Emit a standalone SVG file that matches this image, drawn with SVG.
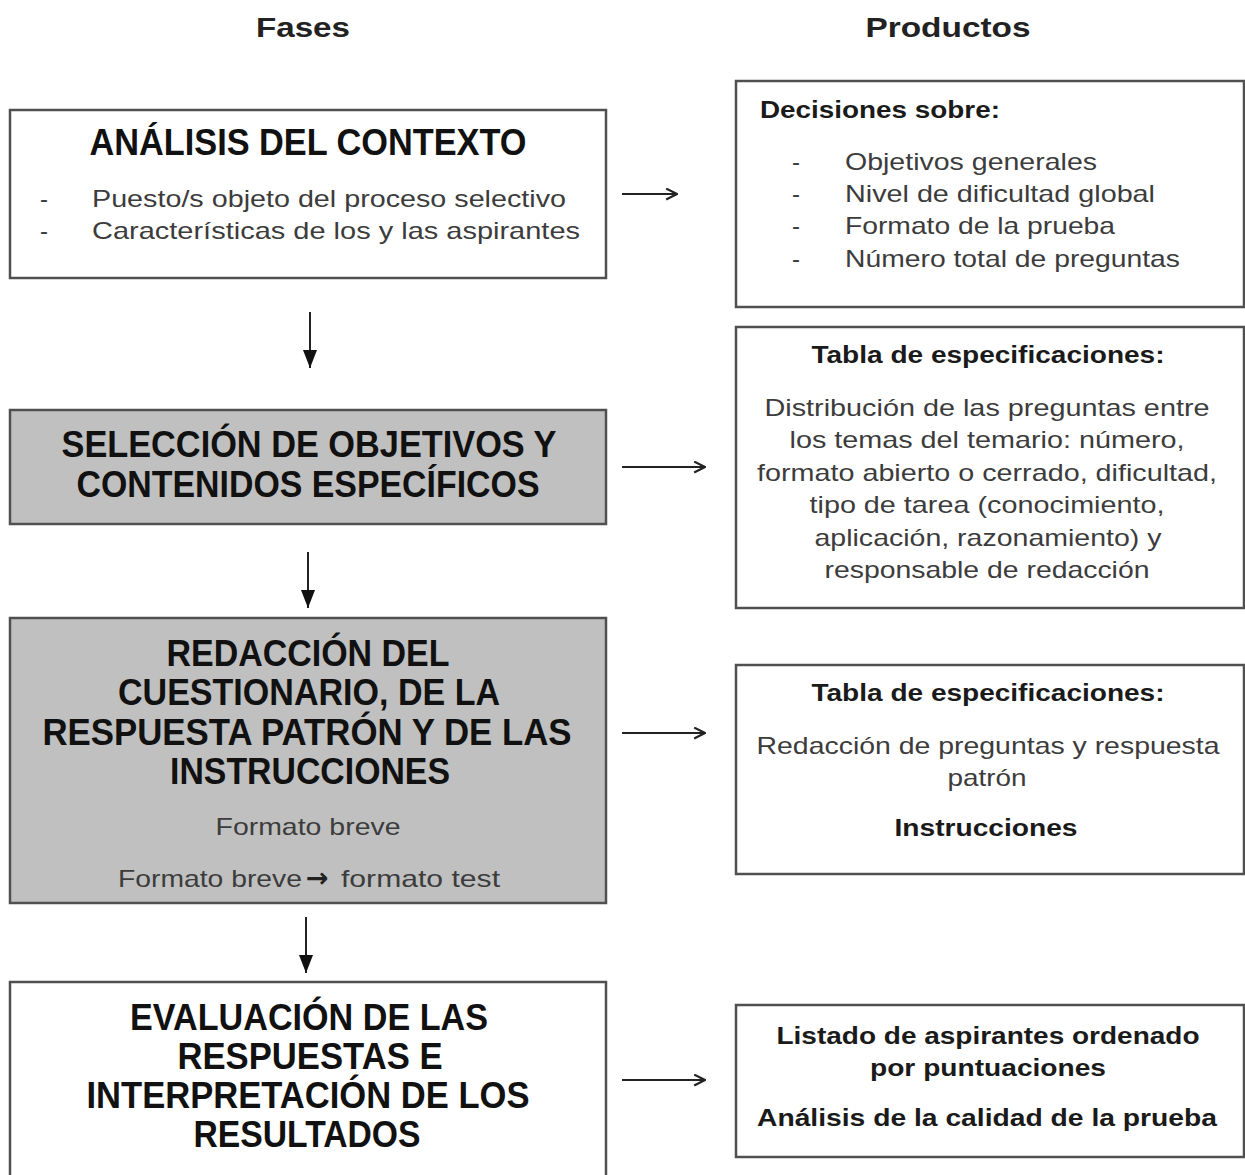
<svg xmlns="http://www.w3.org/2000/svg" width="1245" height="1175" viewBox="0 0 1245 1175">
<defs>
<style>
.box{fill:#fff;stroke:#505050;stroke-width:2.5}
.grey{fill:#c0c0c0}
.hd{font-family:"Liberation Sans",Arial,sans-serif;font-weight:bold;font-size:28px;fill:#222;text-anchor:middle}
.t{font-family:"Liberation Sans",Arial,sans-serif;font-weight:bold;font-size:36px;fill:#111;text-anchor:middle}
.b{font-family:"Liberation Sans",Arial,sans-serif;font-size:24px;fill:#3c3c3c}
.bc{font-family:"Liberation Sans",Arial,sans-serif;font-size:24px;fill:#3c3c3c;text-anchor:middle}
.bb{font-family:"Liberation Sans",Arial,sans-serif;font-weight:bold;font-size:23px;fill:#1a1a1a}
.bbc{font-family:"Liberation Sans",Arial,sans-serif;font-weight:bold;font-size:23px;fill:#1a1a1a;text-anchor:middle}
.arr{font-family:"DejaVu Sans",sans-serif;font-weight:bold;fill:#222}
.ln{stroke:#222;stroke-width:2;fill:none}
</style>
<marker id="open" viewBox="0 0 12 12" refX="11" refY="6" markerWidth="13" markerHeight="13" markerUnits="userSpaceOnUse" orient="auto">
<path d="M1,1 L11,6 L1,11" fill="none" stroke="#222" stroke-width="2"/>
</marker>
<marker id="tri" viewBox="0 0 14 18" refX="7" refY="18" markerWidth="14" markerHeight="18" markerUnits="userSpaceOnUse" orient="0">
<path d="M0,0 L14,0 L7,18 Z" fill="#111"/>
</marker>
</defs>
<rect width="1245" height="1175" fill="#fff"/>

<g id="headers">
<text class="hd" x="303" y="37" textLength="94" lengthAdjust="spacingAndGlyphs">Fases</text>
<text class="hd" x="948" y="37" textLength="165" lengthAdjust="spacingAndGlyphs">Productos</text>
</g>

<g id="analisis">
<rect class="box" x="10" y="110" width="596" height="168"/>
<text class="t" x="308" y="155" textLength="437" lengthAdjust="spacingAndGlyphs">ANÁLISIS DEL CONTEXTO</text>
<text class="b" x="40" y="207">-</text>
<text class="b" x="92" y="207" textLength="474" lengthAdjust="spacingAndGlyphs">Puesto/s objeto del proceso selectivo</text>
<text class="b" x="40" y="239">-</text>
<text class="b" x="92" y="239" textLength="488" lengthAdjust="spacingAndGlyphs">Características de los y las aspirantes</text>
</g>

<g id="seleccion">
<rect class="box grey" x="10" y="410" width="596" height="114"/>
<text class="t" x="309" y="457" textLength="495" lengthAdjust="spacingAndGlyphs">SELECCIÓN DE OBJETIVOS Y</text>
<text class="t" x="308" y="497" textLength="463" lengthAdjust="spacingAndGlyphs">CONTENIDOS ESPECÍFICOS</text>
</g>

<g id="redaccion">
<rect class="box grey" x="10" y="618" width="596" height="285"/>
<text class="t" x="308" y="666" textLength="283" lengthAdjust="spacingAndGlyphs">REDACCIÓN DEL</text>
<text class="t" x="309" y="705" textLength="382" lengthAdjust="spacingAndGlyphs">CUESTIONARIO, DE LA</text>
<text class="t" x="307" y="745" textLength="529" lengthAdjust="spacingAndGlyphs">RESPUESTA PATRÓN Y DE LAS</text>
<text class="t" x="310" y="784" textLength="280" lengthAdjust="spacingAndGlyphs">INSTRUCCIONES</text>
<text class="bc" x="308" y="835" textLength="185" lengthAdjust="spacingAndGlyphs">Formato breve</text>
<text class="b" x="118" y="887"><tspan textLength="184" lengthAdjust="spacingAndGlyphs">Formato breve</tspan><tspan class="arr" x="306" font-size="27" text-anchor="start">→</tspan><tspan x="341" textLength="159" lengthAdjust="spacingAndGlyphs">formato test</tspan></text>
</g>

<g id="evaluacion">
<rect class="box" x="10" y="982" width="596" height="200"/>
<text class="t" x="309" y="1030" textLength="358" lengthAdjust="spacingAndGlyphs">EVALUACIÓN DE LAS</text>
<text class="t" x="310" y="1069" textLength="265" lengthAdjust="spacingAndGlyphs">RESPUESTAS E</text>
<text class="t" x="308" y="1108" textLength="443" lengthAdjust="spacingAndGlyphs">INTERPRETACIÓN DE LOS</text>
<text class="t" x="307" y="1147" textLength="227" lengthAdjust="spacingAndGlyphs">RESULTADOS</text>
</g>

<g id="decisiones">
<rect class="box" x="736" y="81" width="508" height="226"/>
<text class="bb" x="760" y="118" textLength="240" lengthAdjust="spacingAndGlyphs">Decisiones sobre:</text>
<text class="b" x="792" y="170">-</text>
<text class="b" x="845" y="170" textLength="252" lengthAdjust="spacingAndGlyphs">Objetivos generales</text>
<text class="b" x="792" y="202">-</text>
<text class="b" x="845" y="202" textLength="310" lengthAdjust="spacingAndGlyphs">Nivel de dificultad global</text>
<text class="b" x="792" y="234">-</text>
<text class="b" x="845" y="234" textLength="270" lengthAdjust="spacingAndGlyphs">Formato de la prueba</text>
<text class="b" x="792" y="267">-</text>
<text class="b" x="845" y="267" textLength="335" lengthAdjust="spacingAndGlyphs">Número total de preguntas</text>
</g>

<g id="tabla1">
<rect class="box" x="736" y="327" width="508" height="281"/>
<text class="bbc" x="988" y="363" textLength="353" lengthAdjust="spacingAndGlyphs">Tabla de especificaciones:</text>
<text class="bc" x="987" y="416" textLength="445" lengthAdjust="spacingAndGlyphs">Distribución de las preguntas entre</text>
<text class="bc" x="987" y="448" textLength="395" lengthAdjust="spacingAndGlyphs">los temas del temario: número,</text>
<text class="bc" x="987" y="481" textLength="460" lengthAdjust="spacingAndGlyphs">formato abierto o cerrado, dificultad,</text>
<text class="bc" x="987" y="513" textLength="355" lengthAdjust="spacingAndGlyphs">tipo de tarea (conocimiento,</text>
<text class="bc" x="988" y="546" textLength="347" lengthAdjust="spacingAndGlyphs">aplicación, razonamiento) y</text>
<text class="bc" x="987" y="578" textLength="325" lengthAdjust="spacingAndGlyphs">responsable de redacción</text>
</g>

<g id="tabla2">
<rect class="box" x="736" y="665" width="508" height="209"/>
<text class="bbc" x="988" y="701" textLength="353" lengthAdjust="spacingAndGlyphs">Tabla de especificaciones:</text>
<text class="bc" x="988" y="754" textLength="463" lengthAdjust="spacingAndGlyphs">Redacción de preguntas y respuesta</text>
<text class="bc" x="987" y="786" textLength="79" lengthAdjust="spacingAndGlyphs">patrón</text>
<text class="bbc" x="986" y="836" textLength="183" lengthAdjust="spacingAndGlyphs">Instrucciones</text>
</g>

<g id="listado">
<rect class="box" x="736" y="1005" width="508" height="152"/>
<text class="bbc" x="988" y="1044" textLength="423" lengthAdjust="spacingAndGlyphs">Listado de aspirantes ordenado</text>
<text class="bbc" x="988" y="1076" textLength="236" lengthAdjust="spacingAndGlyphs">por puntuaciones</text>
<text class="bbc" x="987" y="1126" textLength="460" lengthAdjust="spacingAndGlyphs">Análisis de la calidad de la prueba</text>
</g>

<g id="connectors">
<line class="ln" x1="622" y1="194" x2="677" y2="194" marker-end="url(#open)"/>
<line class="ln" x1="622" y1="467" x2="705" y2="467" marker-end="url(#open)"/>
<line class="ln" x1="622" y1="733" x2="705" y2="733" marker-end="url(#open)"/>
<line class="ln" x1="622" y1="1080" x2="705" y2="1080" marker-end="url(#open)"/>
<line class="ln" x1="310" y1="312" x2="310" y2="368" marker-end="url(#tri)"/>
<line class="ln" x1="308" y1="552" x2="308" y2="608" marker-end="url(#tri)"/>
<line class="ln" x1="306" y1="917" x2="306" y2="973" marker-end="url(#tri)"/>
</g>
</svg>
